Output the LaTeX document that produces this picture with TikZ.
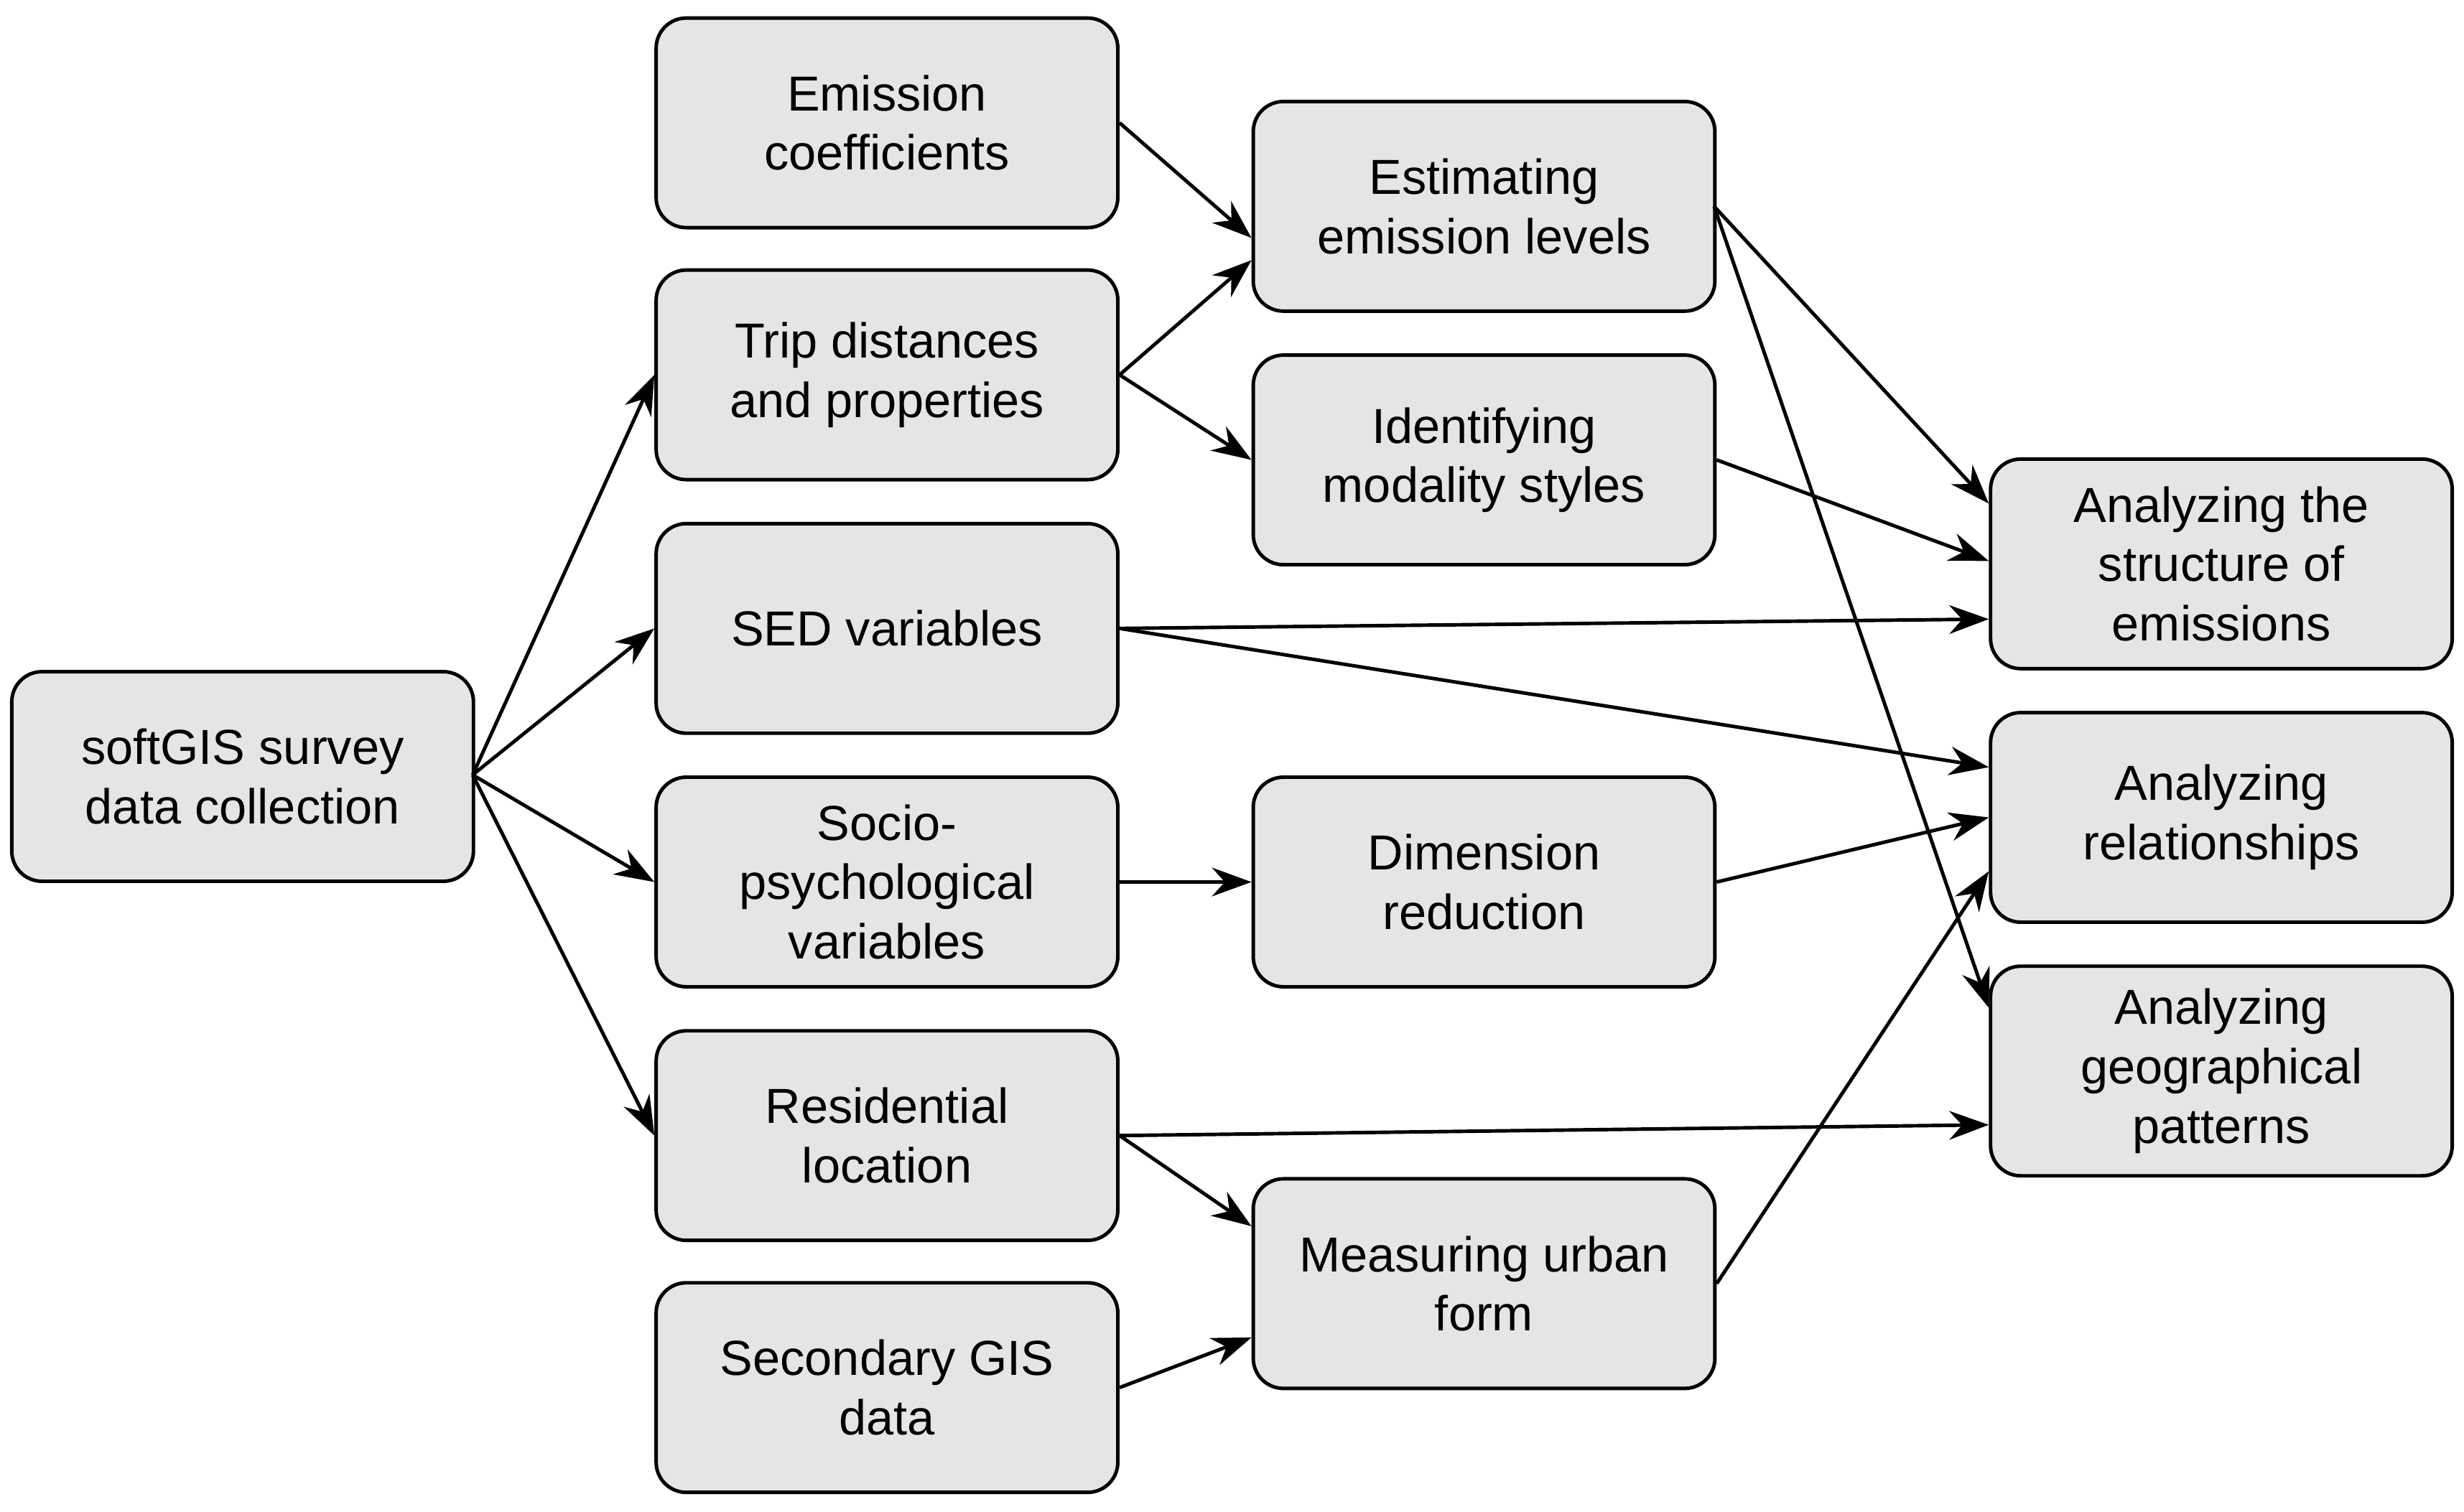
\documentclass[tikz,border=0pt]{standalone}
\usepackage{fontspec}
\setmainfont{Liberation Sans}
\usetikzlibrary{arrows.meta}
\begin{document}
\begin{tikzpicture}[x=0.02194cm,y=-0.02194cm,
  box/.style={draw=black,line width=1.4pt,fill=gray!20,rounded corners=0.42cm,
    minimum width=6.43cm,minimum height=2.92cm,inner sep=0pt,align=center,
    font=\fontsize{19.5}{23.5}\selectfont},
  arr/.style={line width=1.4pt,-{Stealth[length=0.55cm,width=0.4cm]}}]
\useasboundingbox (0,0) rectangle (1564,960);
\node[box] (soft) at (154,493) {softGIS survey\\data collection};
\node[box] (emi) at (563,78) {Emission\\coefficients};
\node[box] (trip) at (563,238) {Trip distances\\and properties};
\node[box] (sed) at (563,399) {SED variables};
\node[box] (soc) at (563,560) {Socio-\\psychological\\variables};
\node[box] (res) at (563,721) {Residential\\location};
\node[box] (sec) at (563,881) {Secondary GIS\\data};
\node[box] (est) at (942,131) {Estimating\\emission levels};
\node[box] (ide) at (942,292) {Identifying\\modality styles};
\node[box] (dim) at (942,560) {Dimension\\reduction};
\node[box] (mea) at (942,815) {Measuring urban\\form};
\node[box] (str) at (1410,358) {Analyzing the\\structure of\\emissions};
\node[box] (rel) at (1410,519) {Analyzing\\relationships};
\node[box] (geo) at (1410,680) {Analyzing\\geographical\\patterns};
\coordinate (s0) at (300,492);
\draw[arr] (s0) -- (trip.west);
\draw[arr] (s0) -- (sed.west);
\draw[arr] (s0) -- (soc.west);
\draw[arr] (s0) -- (res.west);
\draw[arr] (emi.east) -- ([yshift=-0.44cm]est.west);
\draw[arr] (trip.east) -- ([yshift=-0.75cm]est.west);
\draw[arr] (trip.east) -- (ide.west);
\coordinate (e0) at (1088,131);
\draw[arr] (e0) -- ([yshift=0.84cm]str.west);
\draw[arr] (e0) -- ([yshift=0.88cm]geo.west);
\draw[arr] (ide.east) -- ([yshift=0.04cm]str.west);
\draw[arr] (sed.east) -- ([yshift=-0.77cm]str.west);
\draw[arr] (sed.east) -- ([yshift=0.7cm]rel.west);
\draw[arr] (soc.east) -- (dim.west);
\draw[arr] (dim.east) -- ([yshift=0cm]rel.west);
\draw[arr] (res.east) -- ([yshift=-0.75cm]geo.west);
\draw[arr] (res.east) -- ([yshift=0.8cm]mea.west);
\draw[arr] (sec.east) -- ([yshift=-0.75cm]mea.west);
\draw[arr] (mea.east) -- ([yshift=-0.75cm]rel.west);
\end{tikzpicture}
\end{document}
